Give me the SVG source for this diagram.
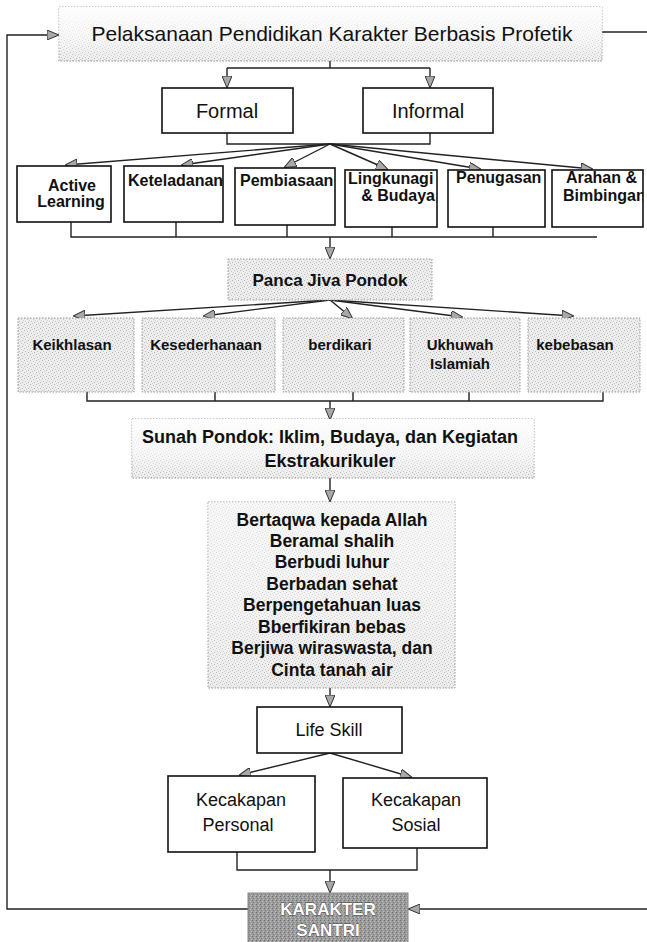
<svg xmlns="http://www.w3.org/2000/svg" width="647" height="942" viewBox="0 0 647 942">
  <style>
    .t { font-family: "Liberation Sans", Arial, sans-serif; fill: #111; }
    .b { font-weight: bold; }
    .solid { fill: #fff; stroke: #111; stroke-width: 1.6; }
    .soft { fill: url(#grain); stroke: #999; stroke-width: 1; stroke-dasharray: 1.5 1.5; }
    .conn { fill: none; stroke: #222; stroke-width: 1.4; }
  </style>
  <defs>
    <pattern id="grain" width="6" height="6" patternUnits="userSpaceOnUse">
      <rect width="6" height="6" fill="#eeeeee"/>
      <rect x="0" y="0" width="1" height="1" fill="#b5b5b5"/>
      <rect x="3" y="1" width="1" height="1" fill="#c4c4c4"/>
      <rect x="1" y="3" width="1" height="1" fill="#bdbdbd"/>
      <rect x="4" y="4" width="1" height="1" fill="#b0b0b0"/>
      <rect x="5" y="2" width="1" height="1" fill="#d0d0d0"/>
      <rect x="2" y="5" width="1" height="1" fill="#c8c8c8"/>
    </pattern>
    <pattern id="grainDark" width="4" height="4" patternUnits="userSpaceOnUse">
      <rect width="4" height="4" fill="#9c9c9c"/>
      <rect x="0" y="0" width="1" height="1" fill="#6e6e6e"/>
      <rect x="2" y="1" width="1" height="1" fill="#c2c2c2"/>
      <rect x="1" y="2" width="1" height="1" fill="#7a7a7a"/>
      <rect x="3" y="3" width="1" height="1" fill="#bcbcbc"/>
    </pattern>
    <linearGradient id="fadeTop" x1="0" y1="0" x2="0" y2="1">
      <stop offset="0" stop-color="#fff" stop-opacity="0.95"/>
      <stop offset="0.55" stop-color="#fff" stop-opacity="0.6"/>
      <stop offset="1" stop-color="#fff" stop-opacity="0"/>
    </linearGradient>
    <marker id="arr" viewBox="0 0 12 10" refX="11" refY="5" markerWidth="12" markerHeight="10" markerUnits="userSpaceOnUse" orient="auto">
      <path d="M0,0 L12,5 L0,10 Z" fill="#a8a8a8" stroke="#333" stroke-width="1"/>
    </marker>
    <clipPath id="cKet"><rect x="124" y="166" width="99" height="57"/></clipPath>
    <clipPath id="cPem"><rect x="235" y="168" width="100" height="57"/></clipPath>
    <clipPath id="cLing"><rect x="345" y="170" width="92" height="57"/></clipPath>
    <clipPath id="cPen"><rect x="448" y="170" width="97" height="57"/></clipPath>
    <clipPath id="cAra"><rect x="552" y="170" width="91" height="57"/></clipPath>
  </defs>

  <rect width="647" height="942" fill="#fff"/>

  <!-- connectors -->
  <g id="connectors">
    <!-- feedback loop on the left and right edges -->
    <path class="conn" d="M248,909 L7,909 L7,35 L58,35" marker-end="url(#arr)"/>
    <path class="conn" d="M602,32 L647,32"/>
    <path class="conn" d="M647,909 L409,909" marker-end="url(#arr)"/>
    <!-- top box to Formal / Informal -->
    <path class="conn" d="M330,61 L330,68 M227,68 L430,68"/>
    <path class="conn" d="M227,68 L227,87" marker-end="url(#arr)"/>
    <path class="conn" d="M430,68 L430,87" marker-end="url(#arr)"/>
    <!-- Formal / Informal join -->
    <path class="conn" d="M227,133 L227,144 L430,144 L430,133"/>
    <!-- fan to the six methods -->
    <path class="conn" d="M330,144 L66,165" marker-end="url(#arr)"/>
    <path class="conn" d="M330,144 L182,165" marker-end="url(#arr)"/>
    <path class="conn" d="M330,144 L285,167" marker-end="url(#arr)"/>
    <path class="conn" d="M330,144 L387,169" marker-end="url(#arr)"/>
    <path class="conn" d="M330,144 L480,169" marker-end="url(#arr)"/>
    <path class="conn" d="M330,144 L592,169" marker-end="url(#arr)"/>
    <!-- methods join -->
    <path class="conn" d="M71,222 L71,237 L597,237 M176,222 L176,237 M287,225 L287,237 M392,227 L392,237 M493,227 L493,237"/>
    <path class="conn" d="M330,237 L330,258" marker-end="url(#arr)"/>
    <!-- fan to the five spirits -->
    <path class="conn" d="M330,300 L74,316" marker-end="url(#arr)"/>
    <path class="conn" d="M330,300 L204,316" marker-end="url(#arr)"/>
    <path class="conn" d="M330,300 L352,318" marker-end="url(#arr)"/>
    <path class="conn" d="M330,300 L462,317" marker-end="url(#arr)"/>
    <path class="conn" d="M330,300 L573,316" marker-end="url(#arr)"/>
    <!-- spirits join -->
    <path class="conn" d="M87,392 L87,401 L603,401 L603,392 M215,392 L215,401 M353,392 L353,401 M469,392 L469,401"/>
    <path class="conn" d="M330,401 L330,419" marker-end="url(#arr)"/>
    <!-- Sunah to values -->
    <path class="conn" d="M330,478 L330,501" marker-end="url(#arr)"/>
    <!-- values to Life Skill -->
    <path class="conn" d="M330,688 L330,706" marker-end="url(#arr)"/>
    <!-- Life Skill to the two skills -->
    <path class="conn" d="M330,753 L240,775" marker-end="url(#arr)"/>
    <path class="conn" d="M330,753 L411,777" marker-end="url(#arr)"/>
    <!-- skills join -->
    <path class="conn" d="M237,852 L237,870 L417,870 L417,848"/>
    <path class="conn" d="M330,870 L330,892" marker-end="url(#arr)"/>
  </g>

  <!-- top box -->
  <g id="pelaksanaan">
    <rect class="soft" x="59" y="7" width="543" height="54"/>
    <rect x="59" y="7" width="543" height="54" fill="url(#fadeTop)"/>
    <text class="t" x="332" y="41" font-size="21" text-anchor="middle">Pelaksanaan Pendidikan Karakter Berbasis Profetik</text>
  </g>

  <g id="formal">
    <rect class="solid" x="162" y="88" width="131" height="45"/>
    <text class="t" x="227" y="118" font-size="20" text-anchor="middle">Formal</text>
  </g>
  <g id="informal">
    <rect class="solid" x="363" y="88" width="130" height="45"/>
    <text class="t" x="428" y="118" font-size="20" text-anchor="middle">Informal</text>
  </g>

  <!-- six methods -->
  <g id="active-learning">
    <rect class="solid" x="17" y="166" width="94" height="56"/>
    <text class="t b" x="72" y="191" font-size="16" text-anchor="middle">Active</text>
    <text class="t b" x="71" y="207" font-size="16" text-anchor="middle">Learning</text>
  </g>
  <g id="keteladanan">
    <rect class="solid" x="124" y="166" width="99" height="56"/>
    <text class="t b" x="128" y="186" font-size="16" clip-path="url(#cKet)">Keteladanan</text>
  </g>
  <g id="pembiasaan">
    <rect class="solid" x="235" y="168" width="100" height="57"/>
    <text class="t b" x="240" y="186" font-size="16" clip-path="url(#cPem)">Pembiasaan</text>
  </g>
  <g id="lingkungan">
    <rect class="solid" x="345" y="170" width="92" height="57"/>
    <text class="t b" x="348" y="184" font-size="16" clip-path="url(#cLing)">Lingkunagi</text>
    <text class="t b" x="435" y="201" font-size="16" text-anchor="end">&amp; Budaya</text>
  </g>
  <g id="penugasan">
    <rect class="solid" x="448" y="170" width="97" height="57"/>
    <text class="t b" x="456" y="183" font-size="16" clip-path="url(#cPen)">Penugasan</text>
  </g>
  <g id="arahan">
    <rect class="solid" x="552" y="170" width="91" height="57"/>
    <text class="t b" x="637" y="183" font-size="16" text-anchor="end">Arahan &amp;</text>
    <text class="t b" x="563" y="201" font-size="16" clip-path="url(#cAra)">Bimbingan</text>
  </g>

  <g id="panca-jiva">
    <rect class="soft" x="228" y="259" width="204" height="41"/>
    <text class="t b" x="330" y="286" font-size="17" text-anchor="middle">Panca Jiva Pondok</text>
  </g>

  <!-- five spirits -->
  <g id="keikhlasan">
    <rect class="soft" x="18" y="318" width="116" height="74"/>
    <text class="t b" x="72" y="350" font-size="15" text-anchor="middle">Keikhlasan</text>
  </g>
  <g id="kesederhanaan">
    <rect class="soft" x="142" y="318" width="133" height="74"/>
    <text class="t b" x="206" y="350" font-size="15" text-anchor="middle">Kesederhanaan</text>
  </g>
  <g id="berdikari">
    <rect class="soft" x="283" y="318" width="121" height="74"/>
    <text class="t b" x="340" y="350" font-size="15" text-anchor="middle">berdikari</text>
  </g>
  <g id="ukhuwah">
    <rect class="soft" x="410" y="318" width="110" height="74"/>
    <text class="t b" x="460" y="350" font-size="15" text-anchor="middle">Ukhuwah</text>
    <text class="t b" x="460" y="369" font-size="15" text-anchor="middle">Islamiah</text>
  </g>
  <g id="kebebasan">
    <rect class="soft" x="528" y="318" width="112" height="74"/>
    <text class="t b" x="575" y="350" font-size="15" text-anchor="middle">kebebasan</text>
  </g>

  <g id="sunah-pondok">
    <rect class="soft" x="132" y="419" width="402" height="59"/>
    <rect x="132" y="419" width="402" height="59" fill="url(#fadeTop)"/>
    <text class="t b" x="330" y="443" font-size="18" text-anchor="middle">Sunah Pondok: Iklim, Budaya, dan Kegiatan</text>
    <text class="t b" x="330" y="467" font-size="18" text-anchor="middle">Ekstrakurikuler</text>
  </g>

  <g id="nilai">
    <rect class="soft" x="208" y="502" width="247" height="186"/>
    <rect x="208" y="502" width="247" height="186" fill="url(#fadeTop)" opacity="0.6"/>
    <g class="t b" font-size="17.5" text-anchor="middle">
      <text x="332" y="526">Bertaqwa kepada Allah</text>
      <text x="332" y="547">Beramal shalih</text>
      <text x="332" y="568">Berbudi luhur</text>
      <text x="332" y="590">Berbadan sehat</text>
      <text x="332" y="611">Berpengetahuan luas</text>
      <text x="332" y="633">Bberfikiran bebas</text>
      <text x="332" y="654">Berjiwa wiraswasta, dan</text>
      <text x="332" y="676">Cinta tanah air</text>
    </g>
  </g>

  <g id="life-skill">
    <rect class="solid" x="257" y="707" width="145" height="46"/>
    <text class="t" x="329" y="736" font-size="18" text-anchor="middle">Life Skill</text>
  </g>

  <g id="kecakapan-personal">
    <rect class="solid" x="168" y="776" width="147" height="76"/>
    <text class="t" x="241" y="806" font-size="18" text-anchor="middle">Kecakapan</text>
    <text class="t" x="238" y="831" font-size="18" text-anchor="middle">Personal</text>
  </g>
  <g id="kecakapan-sosial">
    <rect class="solid" x="343" y="778" width="144" height="70"/>
    <text class="t" x="416" y="806" font-size="18" text-anchor="middle">Kecakapan</text>
    <text class="t" x="416" y="831" font-size="18" text-anchor="middle">Sosial</text>
  </g>

  <g id="karakter-santri">
    <rect x="248" y="893" width="160" height="52" fill="url(#grainDark)" stroke="#888" stroke-width="1"/>
    <g class="b" font-family="Liberation Sans, Arial, sans-serif" font-size="17" text-anchor="middle" fill="#fff" stroke="#444" stroke-width="0.8" paint-order="stroke">
      <text x="328" y="915">KARAKTER</text>
      <text x="328" y="936">SANTRI</text>
    </g>
  </g>
</svg>
